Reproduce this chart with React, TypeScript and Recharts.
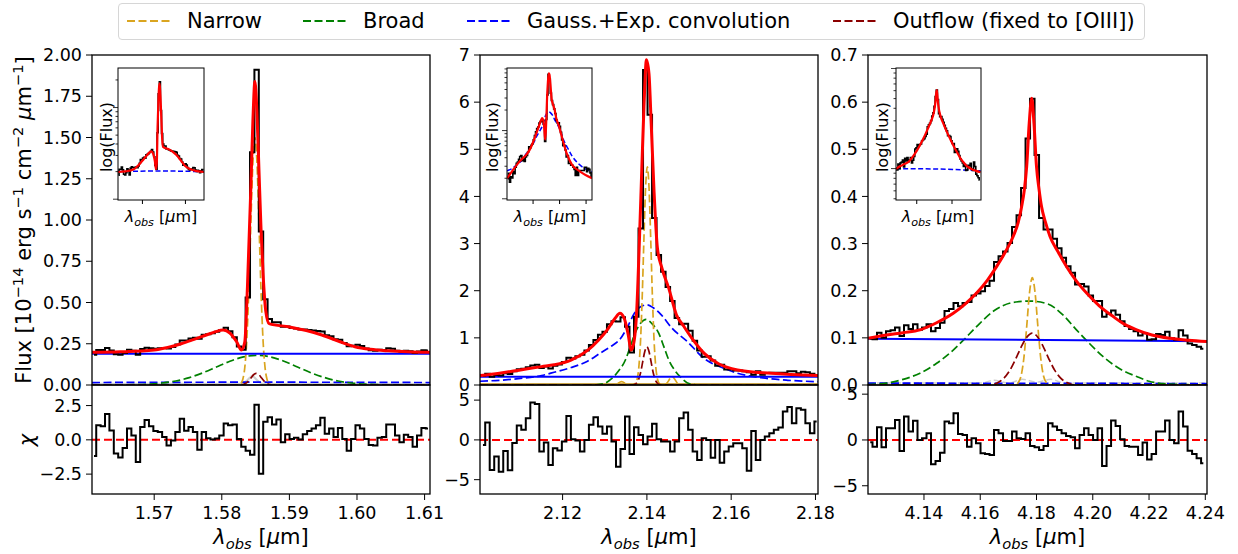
import React from 'react';
import { ComposedChart, Line, XAxis, YAxis, ReferenceLine } from 'recharts';

const FONT = '"DejaVu Sans", Verdana, sans-serif';

// colours used by matplotlib in the original figure
const C = {
  narrow: '#daa520',
  broad: '#008000',
  conv: '#0000ff',
  out: '#8b0000',
  model: '#ff0000',
  data: '#000000',
  grey: '#cfcfcf',
  gold: '#b8860b',
};

type P = [number, number];

// ---------- panel 1 (1.56 - 1.61 um) ----------
const p1Start = 1.5611;
const p1Step = 0.00065;
const p1Flux = [
  0.183, 0.212, 0.212, 0.224, 0.209, 0.187, 0.184, 0.194, 0.214, 0.208,
  0.184, 0.218, 0.226, 0.222, 0.22, 0.223, 0.224, 0.221, 0.231, 0.246,
  0.27, 0.269, 0.282, 0.287, 0.28, 0.305, 0.308, 0.314, 0.323, 0.334,
  0.347, 0.326, 0.29, 0.233, 0.213, 0.53, 1.41, 1.91, 0.93, 0.52,
  0.4, 0.38, 0.38, 0.353, 0.355, 0.346, 0.343, 0.336, 0.336, 0.334,
  0.331, 0.328, 0.324, 0.301, 0.296, 0.278, 0.275, 0.255, 0.235, 0.238,
  0.244, 0.236, 0.221, 0.211, 0.208, 0.213, 0.212, 0.222, 0.22, 0.208,
  0.201, 0.207, 0.204, 0.194, 0.203, 0.21, 0.209,
];
const p1Chi = [
  -1.17, 1.07, 0.99, 1.89, 0.69, -1.0, -1.29, -0.6, 0.82, 0.32,
  -1.61, 0.94, 1.44, 0.99, 0.65, 0.57, 0.2, -0.42, -0.05, 0.57,
  1.54, 0.67, 0.94, 0.57, -0.72, 0.57, 0.12, 0.02, 0.1, 0.32,
  1.19, 1.07, 1.12, 0.07, -0.5, -0.79, -1.09, 2.56, -2.48, 1.32,
  1.64, 1.12, 1.49, -0.17, 0.4, 0.07, 0.15, 0.02, 0.4, 0.65,
  0.82, 1.07, 1.61, 0.45, 0.82, 0.2, 0.87, 0.07, -0.79, 0.07,
  1.07, 0.82, 0.07, -0.37, -0.42, 0.15, 0.2, 1.12, 1.12, 0.32,
  -0.17, 0.37, 0.2, -0.5, 0.32, 0.87, 0.82,
];
const p1Model: P[] = [
  [1.5608, 0.198], [1.565, 0.201], [1.57, 0.212], [1.572, 0.228], [1.574, 0.25],
  [1.5758, 0.275], [1.5775, 0.3], [1.579, 0.322], [1.5802, 0.333], [1.5812, 0.315],
  [1.5822, 0.262], [1.5829, 0.212], [1.5834, 0.26], [1.5838, 0.6], [1.5843, 1.2],
  [1.5846, 1.6], [1.5849, 1.84], [1.5852, 1.65], [1.5855, 1.3], [1.5858, 0.95],
  [1.5861, 0.68], [1.5865, 0.45], [1.587, 0.372], [1.59, 0.352], [1.5925, 0.33],
  [1.5948, 0.303], [1.5975, 0.262], [1.5997, 0.232], [1.602, 0.216], [1.6046, 0.207],
  [1.6075, 0.201], [1.6108, 0.198],
];
const p1Cont: P[] = [[1.5608, 0.19], [1.6108, 0.19]];
const p1Conv: P[] = [[1.5608, 0.015], [1.585, 0.017], [1.6108, 0.015]];
const p1Grey: P[] = [
  [1.5608, 0.008], [1.583, 0.008], [1.5838, 0.03], [1.5845, 0.055], [1.5852, 0.03],
  [1.586, 0.008], [1.6108, 0.008],
];
const p1Broad: P[] = [
  [1.5608, 0], [1.5652, 0.001], [1.5672, 0.002], [1.5692, 0.005], [1.5712, 0.012],
  [1.5732, 0.024], [1.5752, 0.045], [1.5772, 0.074], [1.5792, 0.109], [1.5812, 0.144],
  [1.5832, 0.17], [1.5852, 0.18], [1.5872, 0.17], [1.5892, 0.144], [1.5912, 0.109],
  [1.5932, 0.074], [1.5952, 0.045], [1.5972, 0.024], [1.5992, 0.012], [1.6012, 0.005],
  [1.6032, 0.002], [1.6052, 0.001], [1.6108, 0],
];
const p1Narrow: P[] = [
  [1.5608, 0], [1.5824, 0], [1.5828, 0.008], [1.5831, 0.033], [1.5834, 0.105],
  [1.5837, 0.273], [1.584, 0.575], [1.5843, 0.98], [1.5846, 1.35], [1.5849, 1.5],
  [1.5852, 1.35], [1.5855, 0.98], [1.5858, 0.575], [1.5861, 0.273], [1.5864, 0.105],
  [1.5867, 0.033], [1.587, 0.008], [1.5874, 0], [1.6108, 0],
];
const p1Out: P[] = [
  [1.5608, 0], [1.5829, 0], [1.5831, 0.003], [1.5835, 0.009], [1.5839, 0.022],
  [1.5843, 0.042], [1.5847, 0.062], [1.5851, 0.07], [1.5855, 0.062], [1.5859, 0.042],
  [1.5863, 0.022], [1.5867, 0.009], [1.5871, 0.003], [1.5873, 0], [1.6108, 0],
];
const p1InsetBlue: P[] = [[1.5608, 0.2], [1.585, 0.203], [1.6108, 0.2]];

// ---------- panel 2 (2.10 - 2.18 um) ----------
const p2Start = 2.1011;
const p2Step = 0.00107;
const p2Flux = [
  0.197, 0.236, 0.175, 0.21, 0.202, 0.248, 0.234, 0.29, 0.332, 0.345,
  0.378, 0.416, 0.429, 0.361, 0.393, 0.352, 0.409, 0.433, 0.486, 0.58,
  0.562, 0.608, 0.641, 0.73, 0.848, 0.957, 1.067, 1.13, 1.287, 1.352,
  1.346, 1.435, 1.238, 0.69, 1.45, 3.32, 6.68, 5.73, 3.54, 2.76,
  2.4, 2.08, 1.78, 1.42, 1.29, 1.3, 1.15, 0.94, 0.73, 0.6,
  0.61, 0.52, 0.41, 0.43, 0.33, 0.33, 0.31, 0.31, 0.29, 0.27,
  0.22, 0.29, 0.22, 0.255, 0.26, 0.26, 0.26, 0.26, 0.29, 0.29,
  0.25, 0.28, 0.27, 0.24, 0.21,
];
const p2Chi = [
  -0.63, 2.18, -3.78, -2.1, -4.0, -1.4, -3.8, -0.4, 1.8, 1.26,
  2.73, 4.7, 4.5, -1.47, -0.34, -3.15, -1.05, -1.34, -0.21, 3.0,
  0.08, -0.08, -1.47, 0, 1.89, 2.86, 1.68, 0.76, 1.68, -0.21,
  -3.36, -1.13, 2.94, -1.76, 1.6, 0.63, -0.55, 0.42, 2.02, 0.08,
  -0.21, -0.21, -1.47, -0.21, 2.73, 3.45, 1.26, -1.47, -2.52, 0.21,
  0, -2.23, 0, -2.86, -1.47, -0.84, -0.42, -0.42, -1.05, -3.87,
  1.13, -2.52, 0, 0.42, 0.84, 1.26, 1.55, 3.57, 4.12, 2.1,
  3.99, 3.78, 2.1, 0.84, 2.3,
];
const p2Model: P[] = [
  [2.1004, 0.2], [2.105, 0.25], [2.11, 0.32], [2.115, 0.39], [2.118, 0.43],
  [2.122, 0.53], [2.126, 0.74], [2.1285, 0.95], [2.1306, 1.17], [2.1325, 1.42],
  [2.1336, 1.52], [2.1346, 1.42], [2.1355, 1.1], [2.1363, 0.74], [2.137, 0.95],
  [2.1376, 1.6], [2.1382, 3.0], [2.1388, 4.6], [2.1393, 5.9], [2.1399, 6.9],
  [2.1405, 6.6], [2.141, 5.6], [2.1417, 4.1], [2.1425, 2.9], [2.1435, 2.5],
  [2.1452, 2.05], [2.147, 1.49], [2.1488, 1.24], [2.151, 0.95], [2.1536, 0.67],
  [2.157, 0.45], [2.1615, 0.32], [2.1695, 0.25], [2.1806, 0.2],
];
const p2Cont: P[] = [[2.1004, 0.177], [2.1806, 0.177]];
const p2Gold: P[] = [[2.1004, 0.02], [2.1806, 0.02]];
const p2Conv: P[] = [
  [2.1004, 0.08], [2.105, 0.1], [2.11, 0.14], [2.115, 0.2], [2.118, 0.27],
  [2.122, 0.37], [2.1258, 0.5], [2.129, 0.68], [2.1315, 0.82], [2.1337, 0.98],
  [2.1355, 1.25], [2.1369, 1.5], [2.1385, 1.66], [2.14, 1.7], [2.1415, 1.64],
  [2.1433, 1.5], [2.146, 1.2], [2.1496, 0.92], [2.1536, 0.56], [2.1575, 0.38],
  [2.1615, 0.25], [2.1675, 0.15], [2.1734, 0.1], [2.1806, 0.07],
];
const p2Broad: P[] = [
  [2.1004, 0], [2.126, 0], [2.128, 0.005], [2.1298, 0.03], [2.1317, 0.14],
  [2.1333, 0.3], [2.1349, 0.53], [2.136, 0.8], [2.1372, 1.1], [2.1386, 1.32],
  [2.1398, 1.39], [2.1412, 1.3], [2.1428, 1.1], [2.144, 0.82], [2.1452, 0.53],
  [2.1467, 0.3], [2.1483, 0.14], [2.15, 0.03], [2.152, 0.005], [2.154, 0], [2.1806, 0],
];
const p2Narrow: P[] = [
  [2.1004, 0], [2.131, 0], [2.1325, 0.01], [2.134, 0.07], [2.1355, 0.01],
  [2.1367, 0.004], [2.1373, 0.037], [2.1377, 0.13], [2.1381, 0.39], [2.1385, 0.95],
  [2.1389, 1.9], [2.1393, 3.12], [2.1397, 4.2], [2.1401, 4.63], [2.1405, 4.2],
  [2.1409, 3.12], [2.1413, 1.9], [2.1417, 0.95], [2.1421, 0.39], [2.1425, 0.13],
  [2.1429, 0.037], [2.1435, 0.004], [2.1445, 0.02], [2.146, 0.18], [2.1475, 0.02],
  [2.149, 0], [2.1806, 0],
];
const p2Out: P[] = [
  [2.1004, 0], [2.1365, 0], [2.137, 0.01], [2.1375, 0.036], [2.138, 0.11],
  [2.1385, 0.26], [2.139, 0.49], [2.1395, 0.71], [2.14, 0.81], [2.1405, 0.71],
  [2.141, 0.49], [2.1415, 0.26], [2.142, 0.11], [2.1425, 0.036], [2.143, 0.01],
  [2.1435, 0], [2.1806, 0],
];
const p2InsetBlue: P[] = [
  [2.1004, 0.257], [2.105, 0.277], [2.11, 0.317], [2.115, 0.377], [2.118, 0.447],
  [2.122, 0.547], [2.1258, 0.677], [2.129, 0.857], [2.1315, 1.0], [2.1337, 1.16],
  [2.1355, 1.43], [2.1369, 1.68], [2.1385, 1.84], [2.14, 1.88], [2.1415, 1.82],
  [2.1433, 1.68], [2.146, 1.38], [2.1496, 1.1], [2.1536, 0.74], [2.1575, 0.56],
  [2.1615, 0.43], [2.1675, 0.33], [2.1734, 0.28], [2.1806, 0.25],
];

// ---------- panel 3 (4.12 - 4.24 um) ----------
const p3Start = 4.1209;
const p3Step = 0.0016;
const p3Flux = [
  0.098, 0.097, 0.111, 0.1, 0.114, 0.116, 0.122, 0.104, 0.127, 0.119,
  0.129, 0.117, 0.122, 0.129, 0.114, 0.121, 0.132, 0.157, 0.161, 0.174,
  0.167, 0.174, 0.176, 0.19, 0.194, 0.199, 0.21, 0.221, 0.261, 0.273,
  0.283, 0.301, 0.335, 0.36, 0.418, 0.523, 0.607, 0.488, 0.354, 0.33,
  0.33, 0.31, 0.29, 0.27, 0.252, 0.238, 0.213, 0.214, 0.209, 0.19,
  0.178, 0.178, 0.145, 0.151, 0.158, 0.149, 0.135, 0.125, 0.119, 0.114,
  0.105, 0.11, 0.096, 0.097, 0.108, 0.106, 0.113, 0.099, 0.096, 0.116,
  0.105, 0.088, 0.085, 0.081, 0.077,
];
const p3Chi = [
  -0.26, -0.73, 1.39, -0.8, 1.28, 1.28, 2.19, -1.2, 2.55, 0.91,
  2.1, 0, 0.18, 0.73, -2.66, -2.3, -1.39, 2.01, 1.82, 2.92,
  0.66, 0.55, -0.73, 0.18, -0.36, -1.46, -1.53, -1.64, 1.09, 0.73,
  -0.11, -0.11, 0.91, 0.18, 0.11, 0.73, -0.66, -0.8, -1.09, -0.66,
  1.82, 1.46, 1.09, 0.73, 0.44, 0.29, -0.91, 0.55, 1.28, 0.55,
  0, 1.28, -2.85, -0.66, 2.12, 1.53, 0.07, -0.66, -0.73, -0.73,
  -1.64, -0.29, -2.12, -1.53, 0.91, 0.91, 2.12, 0, -0.36, 3.1,
  1.46, -1.17, -1.53, -2.0, -2.55,
];
const p3Model: P[] = [
  [4.1201, 0.099], [4.1267, 0.106], [4.1326, 0.111], [4.1386, 0.117], [4.1445, 0.132],
  [4.1504, 0.152], [4.1545, 0.171], [4.1587, 0.195], [4.1625, 0.222], [4.1658, 0.251],
  [4.169, 0.283], [4.1717, 0.315], [4.1735, 0.345], [4.1747, 0.378], [4.1757, 0.415],
  [4.1765, 0.463], [4.1774, 0.555], [4.1783, 0.608], [4.1791, 0.555], [4.18, 0.463],
  [4.1809, 0.415], [4.1818, 0.378], [4.1832, 0.345], [4.1848, 0.315], [4.1876, 0.283],
  [4.1907, 0.251], [4.194, 0.222], [4.1978, 0.195], [4.2023, 0.168], [4.2073, 0.145],
  [4.2115, 0.128], [4.2156, 0.117], [4.221, 0.106], [4.2274, 0.099], [4.234, 0.095],
  [4.2406, 0.092],
];
const p3Cont: P[] = [[4.1201, 0.098], [4.2406, 0.093]];
const p3Conv: P[] = [[4.1201, 0.004], [4.2406, 0.003]];
const p3Grey: P[] = [
  [4.1201, 0.004], [4.16, 0.004], [4.165, 0.01], [4.17, 0.004], [4.175, 0.012],
  [4.18, 0.006], [4.185, 0.012], [4.19, 0.004], [4.2406, 0.004],
];
const p3Broad: P[] = [
  [4.1201, 0.001], [4.1267, 0.004], [4.1326, 0.012], [4.1386, 0.025], [4.1445, 0.046],
  [4.1504, 0.074], [4.1545, 0.098], [4.1587, 0.124], [4.165, 0.158], [4.1715, 0.175],
  [4.1776, 0.178], [4.184, 0.172], [4.1895, 0.148], [4.1942, 0.117], [4.199, 0.087],
  [4.2037, 0.06], [4.21, 0.033], [4.2156, 0.018], [4.22, 0.008], [4.2274, 0.002],
  [4.2406, 0],
];
const p3Narrow: P[] = [
  [4.1201, 0], [4.1725, 0], [4.1735, 0.005], [4.1745, 0.019], [4.1755, 0.057],
  [4.1765, 0.123], [4.1775, 0.195], [4.1785, 0.228], [4.1795, 0.195], [4.1805, 0.123],
  [4.1815, 0.057], [4.1825, 0.019], [4.1835, 0.005], [4.1845, 0], [4.2406, 0],
];
const p3Out: P[] = [
  [4.1201, 0], [4.1635, 0], [4.1665, 0.006], [4.1685, 0.015], [4.1705, 0.031],
  [4.1725, 0.054], [4.1745, 0.08], [4.1765, 0.101], [4.1785, 0.11], [4.1805, 0.101],
  [4.1825, 0.08], [4.1845, 0.054], [4.1865, 0.031], [4.1885, 0.015], [4.1905, 0.006],
  [4.1935, 0], [4.2406, 0],
];
const p3InsetBlue: P[] = [[4.1201, 0.1], [4.18, 0.099], [4.2406, 0.095]];

// ---------- ticks ----------
const p1YTicks = [0, 0.25, 0.5, 0.75, 1.0, 1.25, 1.5, 1.75, 2.0];
const p2YTicks = [0, 1, 2, 3, 4, 5, 6, 7];
const p3YTicks = [0, 0.1, 0.2, 0.3, 0.4, 0.5, 0.6, 0.7];
const p1XTicks = [1.57, 1.58, 1.59, 1.6, 1.61];
const p2XTicks = [2.12, 2.14, 2.16, 2.18];
const p3XTicks = [4.14, 4.16, 4.18, 4.2, 4.22, 4.24];
const p1ChiTicks = [-2.5, 0, 2.5];
const p5ChiTicks = [-5, 0, 5];
const p1LogTicks = [0.1, 0.2, 0.3, 0.4, 0.5, 0.6, 0.7, 0.8, 0.9, 1, 2];
const p2LogTicks = [0.1, 0.2, 0.3, 0.4, 0.5, 0.6, 0.7, 0.8, 0.9, 1, 2, 3, 4, 5, 6, 7, 8];
const p3LogTicks = [0.05, 0.06, 0.07, 0.08, 0.09, 0.1, 0.2, 0.3, 0.4, 0.5, 0.6, 0.7, 0.8, 0.9, 1];

// ---------- helpers ----------
const pts = (a: P[]) => a.map(([x, y]) => ({ x, y }));
const bins = (start: number, step: number, vals: number[]) =>
  vals.map((y, i) => ({ x: +(start + i * step).toFixed(5), y }));
const minus = (s: string) => s.replace('-', '\u2212');

type Series = { data: { x: number; y: number }[]; color: string; w: number; dash?: string; type?: any };

const YW = 70;
const MT = 12;
const MR = 30;
const MAIN_TOP = 55;
const MAIN_H = 330;
const RES_TOP = 385;
const RES_H = 109;

const tickStyle = { fill: '#000', fontSize: 17.5, fontFamily: FONT };

function renderLines(series: Series[]) {
  return series.map((s, i) => (
    <Line
      key={i}
      name={'s' + i}
      data={s.data}
      dataKey="y"
      type={s.type || 'monotone'}
      stroke={s.color}
      strokeWidth={s.w}
      strokeDasharray={s.dash}
      dot={false}
      activeDot={false}
      isAnimationActive={false}
      legendType="none"
    />
  ));
}

function Plot(p: any) {
  const xh = p.xTicks ? 40 : 0;
  const mb = p.xTicks ? 0 : 12;
  return (
    <div style={{ position: 'absolute', left: p.left - YW, top: p.top - MT }}>
      <ComposedChart
        width={YW + p.width + MR}
        height={MT + p.height + mb + xh}
        margin={{ top: MT, right: MR, bottom: mb, left: 0 }}
      >
        <XAxis
          type="number"
          dataKey="x"
          domain={p.xDomain}
          allowDataOverflow
          hide={!p.xTicks}
          ticks={p.xTicks}
          tickFormatter={(v: number) => v.toFixed(2)}
          interval={0}
          height={xh}
          axisLine={false}
          stroke="#000"
          tickSize={6}
          tickMargin={7}
          tick={tickStyle}
        />
        <YAxis
          type="number"
          domain={p.yDomain}
          allowDataOverflow
          ticks={p.yTicks}
          tickFormatter={p.yFmt}
          interval={0}
          width={YW}
          axisLine={false}
          stroke="#000"
          tickSize={6}
          tickMargin={4}
          tick={tickStyle}
        />
        {p.zero && <ReferenceLine y={0} stroke={C.model} strokeWidth={2} strokeDasharray="8 4" />}
        {renderLines(p.series)}
      </ComposedChart>
    </div>
  );
}

const LogTick = (props: any) => {
  const { x, y, payload } = props;
  const v = payload.value;
  const lg = Math.log10(v);
  const major = Math.abs(lg - Math.round(lg)) < 1e-6;
  const len = major ? 5 : 2.5;
  return <line x1={x} x2={x - len} y1={y} y2={y} stroke="#000" strokeWidth={0.8} />;
};

function Inset(p: any) {
  return (
    <>
      <div style={{ position: 'absolute', left: p.left, top: p.top, width: p.width, height: p.height, background: '#fff' }} />
      <div style={{ position: 'absolute', left: p.left - 8, top: p.top }}>
        <ComposedChart width={p.width + 8} height={p.height + 6} margin={{ top: 0, right: 0, bottom: 0, left: 0 }}>
          <XAxis
            type="number"
            dataKey="x"
            domain={p.xDomain}
            allowDataOverflow
            ticks={p.xTicks}
            interval={0}
            height={6}
            axisLine={false}
            stroke="#000"
            tickSize={4}
            tick={() => <g />}
          />
          <YAxis
            type="number"
            scale="log"
            domain={p.yDomain}
            allowDataOverflow
            ticks={p.yTicks}
            interval={0}
            width={8}
            axisLine={false}
            tickLine={false}
            tickSize={0}
            tickMargin={0}
            tick={LogTick}
          />
          {renderLines(p.series)}
        </ComposedChart>
      </div>
    </>
  );
}

const Lam = ({ size }: { size: number }) => (
  <span style={{ whiteSpace: 'nowrap' }}>
    <i>λ</i>
    <i style={{ fontSize: size * 0.7, position: 'relative', top: size * 0.22 }}>obs</i>
    {' ['}
    <i>μ</i>m]
  </span>
);

const Txt = ({ cx, cy, size, rot, children }: any) => (
  <div
    style={{
      position: 'absolute',
      left: cx,
      top: cy,
      transform: `translate(-50%, -50%)${rot ? ' rotate(-90deg)' : ''}`,
      fontFamily: FONT,
      fontSize: size,
      lineHeight: 1,
      whiteSpace: 'nowrap',
      color: '#000',
    }}
  >
    {children}
  </div>
);

const sup = (s: string) => <sup style={{ fontSize: '0.7em', lineHeight: 0 }}>{s}</sup>;

const legendItems = [
  { label: 'Narrow', color: C.narrow, x: 127, tx: 187 },
  { label: 'Broad', color: C.broad, x: 303, tx: 363 },
  { label: 'Gauss.+Exp. convolution', color: C.conv, x: 467, tx: 527 },
  { label: 'Outflow (fixed to [OIII])', color: C.out, x: 833, tx: 893 },
];

export default function App() {
  const panels = [
    {
      left: 92, width: 338,
      xDomain: [1.5608, 1.6108], yDomain: [0, 2], yTicks: p1YTicks, yFmt: (v: number) => v.toFixed(2),
      xTicks: p1XTicks, chiDomain: [-3.95, 4.0], chiTicks: p1ChiTicks, chiFmt: (v: number) => minus(v.toFixed(1)),
      start: p1Start, step: p1Step, flux: p1Flux, chi: p1Chi,
      model: p1Model, cont: p1Cont, conv: p1Conv, extra: [{ data: pts(p1Grey), color: C.grey, w: 2 }],
      broad: p1Broad, narrow: p1Narrow, out: p1Out,
      inset: { left: 118, width: 86, xDomain: [1.5608, 1.6108], xTicks: [1.575, 1.6], yDomain: [0.098, 2.7], yTicks: p1LogTicks, blue: p1InsetBlue },
      logLbl: [107, 137], lamLbl: [161, 217],
    },
    {
      left: 480, width: 338,
      xDomain: [2.1004, 2.1806], yDomain: [0, 7], yTicks: p2YTicks, yFmt: (v: number) => v.toFixed(0),
      xTicks: p2XTicks, chiDomain: [-6.8, 6.9], chiTicks: p5ChiTicks, chiFmt: (v: number) => minus(v.toFixed(0)),
      start: p2Start, step: p2Step, flux: p2Flux, chi: p2Chi,
      model: p2Model, cont: p2Cont, conv: p2Conv, extra: [{ data: pts(p2Gold), color: C.gold, w: 1.5 }],
      broad: p2Broad, narrow: p2Narrow, out: p2Out,
      inset: { left: 507, width: 85, xDomain: [2.1004, 2.1806], xTicks: [2.125, 2.15, 2.175], yDomain: [0.096, 8.26], yTicks: p2LogTicks, blue: p2InsetBlue },
      logLbl: [493, 137], lamLbl: [550, 217],
    },
    {
      left: 868, width: 339,
      xDomain: [4.1201, 4.2406], yDomain: [0, 0.7], yTicks: p3YTicks, yFmt: (v: number) => v.toFixed(1),
      xTicks: p3XTicks, chiDomain: [-5.9, 6.0], chiTicks: p5ChiTicks, chiFmt: (v: number) => minus(v.toFixed(0)),
      start: p3Start, step: p3Step, flux: p3Flux, chi: p3Chi,
      model: p3Model, cont: p3Cont, conv: p3Conv, extra: [{ data: pts(p3Grey), color: C.grey, w: 1.5, dash: '6 3' }],
      broad: p3Broad, narrow: p3Narrow, out: p3Out,
      inset: { left: 896, width: 85, xDomain: [4.1206, 4.2411], xTicks: [4.15, 4.2], yDomain: [0.0486, 1.01], yTicks: p3LogTicks, blue: p3InsetBlue },
      logLbl: [883, 137], lamLbl: [938, 217],
    },
  ];

  const dash = '8 3.5';

  return (
    <div style={{ position: 'absolute', left: 0, top: 0, width: 1238, height: 554, background: '#fff', overflow: 'hidden', fontFamily: FONT }}>
      {panels.map((p, i) => {
        const data = bins(p.start, p.step, p.flux);
        const chi = bins(p.start, p.step, p.chi);
        const mainSeries: Series[] = [
          ...p.extra,
          { data: pts(p.conv), color: C.conv, w: 1.7, dash },
          { data: pts(p.broad), color: C.broad, w: 1.7, dash },
          { data: pts(p.narrow), color: C.narrow, w: 1.7, dash },
          { data: pts(p.out), color: C.out, w: 1.7, dash },
          { data: pts(p.cont), color: C.conv, w: 2, type: 'linear' },
          { data, color: C.data, w: 2, type: 'step' },
          { data: pts(p.model), color: C.model, w: 3 },
        ];
        const insetSeries: Series[] = [
          { data: pts(p.inset.blue), color: C.conv, w: 1.5, dash: '5 2.5' },
          { data, color: C.data, w: 1.6, type: 'step' },
          { data: pts(p.model), color: C.model, w: 2.2 },
        ];
        return (
          <React.Fragment key={i}>
            <Plot
              left={p.left} top={MAIN_TOP} width={p.width} height={MAIN_H}
              xDomain={p.xDomain} yDomain={p.yDomain} yTicks={p.yTicks} yFmt={p.yFmt}
              series={mainSeries}
            />
            <Plot
              left={p.left} top={RES_TOP} width={p.width} height={RES_H}
              xDomain={p.xDomain} yDomain={p.chiDomain} yTicks={p.chiTicks} yFmt={p.chiFmt}
              xTicks={p.xTicks} zero
              series={[{ data: chi, color: C.data, w: 2, type: 'step' }]}
            />
            <Inset
              left={p.inset.left} top={68} width={p.inset.width} height={132}
              xDomain={p.inset.xDomain} xTicks={p.inset.xTicks}
              yDomain={p.inset.yDomain} yTicks={p.inset.yTicks}
              series={insetSeries}
            />
            <Txt cx={p.logLbl[0]} cy={p.logLbl[1]} size={16} rot>log(Flux)</Txt>
            <Txt cx={p.lamLbl[0]} cy={p.lamLbl[1]} size={16}><Lam size={16} /></Txt>
            <Txt cx={p.left + p.width / 2} cy={537} size={21}><Lam size={21} /></Txt>
          </React.Fragment>
        );
      })}

      <Txt cx={24} cy={220} size={21} rot>
        Flux [10{sup('\u221214')} erg s{sup('\u22121')} cm{sup('\u22122')} <i>μ</i>m{sup('\u22121')}]
      </Txt>
      <Txt cx={27} cy={440} size={21} rot><i>χ</i></Txt>

      {/* frames */}
      <svg width={1238} height={554} style={{ position: 'absolute', left: 0, top: 0, pointerEvents: 'none' }}>
        {panels.map((p, i) => (
          <g key={i} fill="none" stroke="#000">
            <rect x={p.left} y={MAIN_TOP} width={p.width} height={MAIN_H} strokeWidth={1.3} />
            <rect x={p.left} y={RES_TOP} width={p.width} height={RES_H} strokeWidth={1.3} />
            <rect x={p.inset.left} y={68} width={p.inset.width} height={132} strokeWidth={1} />
          </g>
        ))}
      </svg>

      {/* legend */}
      <div style={{ position: 'absolute', left: 118, top: 3, width: 1027, height: 37, border: '1px solid #d6d6d6', borderRadius: 4, boxSizing: 'border-box', background: '#fff' }} />
      {legendItems.map((it) => (
        <React.Fragment key={it.label}>
          <svg width={44} height={6} style={{ position: 'absolute', left: it.x, top: 18 }}>
            <line x1={0} x2={44} y1={3} y2={3} stroke={it.color} strokeWidth={2} strokeDasharray="8 3.5" />
          </svg>
          <div style={{ position: 'absolute', left: it.tx, top: 10, fontSize: 21, lineHeight: '22px', fontFamily: FONT, whiteSpace: 'nowrap', color: '#000' }}>
            {it.label}
          </div>
        </React.Fragment>
      ))}
    </div>
  );
}
